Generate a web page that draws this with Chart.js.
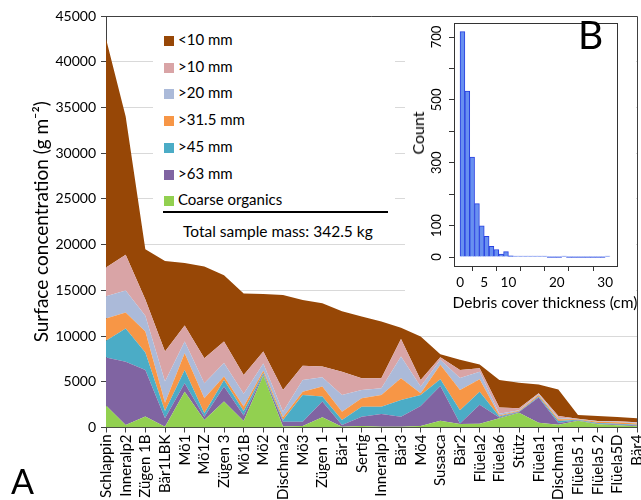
<!DOCTYPE html>
<html>
<head>
<meta charset="utf-8">
<script src="https://cdn.jsdelivr.net/npm/chart.js@4"></script>
<style>
  body { margin: 0; background: #fff; }
  #wrap { position: relative; width: 641px; height: 500px; font-family: Lato, "DejaVu Sans", sans-serif; }
  #main { position: absolute; left: 0; top: 0; }
  #legend { position: absolute; left: 153px; top: 17px; width: 242px; height: 224px; background: #fff; }
  .item { position: absolute; left: 11px; font-size: 15px; line-height: 18px; color: #000; }
  .item span { display: inline-block; width: 10px; height: 10px; margin-right: 4px; vertical-align: -1px; }
  #rule { position: absolute; left: 10px; top: 194px; width: 225px; height: 2px; background: #000; }
  #total { position: absolute; left: 30px; top: 205px; font-size: 15.5px; color: #000; white-space: nowrap; }
  #inset { position: absolute; left: 405px; top: 17px; width: 231px; height: 301px; background: #fff; }
  #lblB { position: absolute; left: 578px; top: 13px; font-size: 39px; line-height: 42px; color: #000; }
  #lblA { position: absolute; left: 11px; top: 462px; font-size: 34px; line-height: 38px; color: #000; }
  #count { position: absolute; left: 418px; top: 133px; font-size: 16px; line-height: 18px; color: #000;
           transform: translate(-50%, -50%) rotate(-90deg); white-space: nowrap; }
  #debris { position: absolute; left: 545px; top: 302px; font-size: 15.5px; line-height: 20px; color: #000;
            transform: translate(-50%, -50%); white-space: nowrap; }
</style>
</head>
<body>
<div id="wrap">
  <canvas id="main" width="641" height="500"></canvas>
  <div id="legend"></div>
  <div id="inset"><canvas id="hist" width="231" height="301"></canvas></div>
  <div id="count">Count</div>
  <div id="debris">Debris cover thickness (cm)</div>
  <div id="lblB">B</div>
  <div id="lblA">A</div>
</div>
<script>
// sites along the x axis
var categories = ['Schlappin', 'Inneralp2', 'Zügen 1B', 'Bär1LBK', 'Mö1', 'Mö1Z', 'Zügen 3', 'Mö1B', 'Mö2',
  'Dischma2', 'Mö3', 'Zügen 1', 'Bär1', 'Sertig', 'Inneralp1', 'Bär3', 'Mö4', 'Susasca', 'Bär2', 'Flüela2',
  'Flüela6', 'Stütz', 'Flüela1', 'Dischma1', 'Flüela5 1', 'Flüela5 2', 'Flüela5D', 'Bär4'];

// surface concentration per fraction (g m-2), stacked from the bottom up
var organics = [2400, 270, 1190, 90, 3920, 820, 2830, 700, 5700, 100, 160, 1110, 90, 160, 90, 90, 160, 750, 380, 400, 1000, 1620, 530, 300, 750, 350, 250, 150];
var gt63 = [5250, 6910, 5110, 910, 920, 360, 1640, 600, 100, 540, 480, 1720, 180, 1020, 1390, 1090, 2200, 3800, 70, 2100, 100, 80, 2740, 200, 50, 50, 70, 70];
var gt45 = [1830, 3650, 1900, 800, 1460, 380, 730, 500, 150, 180, 2920, 550, 550, 1100, 800, 1830, 1200, 730, 1450, 1400, 100, 60, 110, 200, 50, 80, 100, 80];
var gt31 = [2440, 1750, 2300, 900, 1830, 1640, 370, 500, 250, 290, 360, 1090, 910, 920, 1280, 2380, 190, 1570, 2200, 1380, 100, 60, 180, 200, 50, 140, 160, 150];
var gt20 = [2420, 2410, 1720, 2320, 1270, 1640, 1470, 1400, 800, 620, 1280, 1030, 1830, 910, 740, 2370, 720, 550, 1300, 830, 200, 80, 90, 150, 30, 60, 60, 70];
var gt10 = [3170, 3910, 1780, 3290, 1760, 2740, 2360, 2050, 1300, 2380, 1540, 1160, 2550, 1280, 1090, 1910, 730, 290, 900, 380, 700, 200, 100, 200, 30, 40, 50, 60];
var lt10 = [24990, 15100, 5500, 9890, 6840, 10020, 7250, 8900, 6300, 10390, 7210, 6940, 6590, 6760, 6210, 1230, 4750, 310, 1100, 410, 3000, 2800, 950, 2900, 410, 530, 460, 420];

var yTicks = [0, 5000, 10000, 15000, 20000, 25000, 30000, 35000, 40000, 45000];

// inset histogram: 1 cm bins starting at these edges
var binStart = [0, 1, 2, 3, 4, 5, 6, 7, 8, 9, 10, 11, 12, 13, 14, 15, 16, 17, 18, 19, 20, 21, 22, 23, 24, 25, 26, 27, 28, 29, 30];
var counts = [717, 528, 318, 170, 99, 66, 34, 24, 9, 17, 4, 2, 1, 2, 2, 1, 2, 1, 0, 0, 0, 1, 0, 0, 0, 0, 0, 0, 0, 0, 1];
var histXTicks = [0, 5, 10, 15, 20, 25, 30];
var histXLabels = [0, 5, 10, 20, 30];
var histYTicks = [0, 100, 200, 300, 400, 500, 600, 700];
var histYLabels = [0, 100, 300, 500, 700];

var FONT = 'Lato, "DejaVu Sans", sans-serif';

var series = [
  { label: 'Coarse organics', data: organics, color: '#92d050' },
  { label: '>63 mm', data: gt63, color: '#8064a2' },
  { label: '>45 mm', data: gt45, color: '#4bacc6' },
  { label: '>31.5 mm', data: gt31, color: '#f79646' },
  { label: '>20 mm', data: gt20, color: '#abbad9' },
  { label: '>10 mm', data: gt10, color: '#d9a4a6' },
  { label: '<10 mm', data: lt10, color: '#974706' }
];

// legend box, top entry first
var legend = document.getElementById('legend');
series.slice().reverse().forEach(function (s, i) {
  var d = document.createElement('div');
  d.className = 'item';
  d.style.top = (13 + i * 26.7) + 'px';
  d.innerHTML = '<span style="background:' + s.color + '"></span>';
  d.appendChild(document.createTextNode(s.label));
  legend.appendChild(d);
});
var rule = document.createElement('div');
rule.id = 'rule';
legend.appendChild(rule);
var total = document.createElement('div');
total.id = 'total';
total.textContent = 'Total sample mass: 342.5 kg';
legend.appendChild(total);

var frame = {
  id: 'frame',
  afterDraw: function (chart) {
    var a = chart.chartArea, c = chart.ctx;
    c.save();
    c.strokeStyle = '#404040';
    c.lineWidth = 1;
    c.beginPath();
    c.moveTo(a.left, a.top + 0.5);
    c.lineTo(a.right + 0.5, a.top + 0.5);
    c.lineTo(a.right + 0.5, a.bottom);
    c.stroke();
    c.restore();
  }
};

new Chart(document.getElementById('main'), {
  type: 'line',
  data: {
    labels: categories,
    datasets: series.map(function (s, i) {
      return {
        label: s.label,
        data: s.data,
        backgroundColor: s.color,
        borderColor: s.color,
        borderWidth: 0,
        pointRadius: 0,
        tension: 0,
        fill: i === 0 ? 'origin' : '-1'
      };
    })
  },
  options: {
    responsive: false,
    animation: false,
    layout: { padding: { top: 16, right: 4 } },
    plugins: { legend: { display: false }, tooltip: { enabled: false } },
    scales: {
      x: {
        offset: false,
        grid: { drawOnChartArea: false, tickLength: 5, color: '#404040' },
        border: { color: '#404040' },
        ticks: { autoSkip: false, minRotation: 90, maxRotation: 90, padding: 2, color: '#000', font: { family: FONT, size: 15 } },
        afterFit: function (s) { s.height = 72.5; s.paddingRight = 4; s.paddingLeft = 0; }
      },
      y: {
        stacked: true,
        min: 0,
        max: 45000,
        afterBuildTicks: function (s) { s.ticks = yTicks.map(function (v) { return { value: v }; }); },
        grid: { color: '#d9d9d9', tickColor: '#404040', tickLength: 5 },
        border: { color: '#404040' },
        ticks: { padding: 5, color: '#000', font: { family: FONT, size: 14 }, callback: function (v) { return v; } },
        title: { display: true, text: 'Surface concentration (g m⁻²)', color: '#000', font: { family: FONT, size: 19 }, padding: { top: 30, bottom: 0 } },
        afterFit: function (s) { s.width = 106; }
      }
    }
  },
  plugins: [frame]
});

var histAxes = {
  id: 'histAxes',
  afterDraw: function (chart) {
    var a = chart.chartArea, c = chart.ctx, y = chart.scales.y;
    c.save();
    c.strokeStyle = '#333';
    c.lineWidth = 1;
    c.strokeRect(a.left + 0.5, a.top + 0.5, a.right - a.left, a.bottom - a.top);
    c.fillStyle = '#000';
    c.font = '13px ' + FONT;
    c.textAlign = 'center';
    c.textBaseline = 'middle';
    histYLabels.forEach(function (v) {
      c.save();
      c.translate(32, y.getPixelForValue(v));
      c.rotate(-Math.PI / 2);
      c.fillText(String(v), 0, 0);
      c.restore();
    });
    c.restore();
  }
};

new Chart(document.getElementById('hist'), {
  type: 'bar',
  data: {
    datasets: [{
      data: binStart.map(function (b, i) { return { x: b + 0.5, y: counts[i] }; }),
      backgroundColor: '#6890f0',
      borderColor: '#2840e0',
      borderWidth: 1,
      minBarLength: 1,
      barPercentage: 1,
      categoryPercentage: 1
    }]
  },
  options: {
    responsive: false,
    animation: false,
    layout: { padding: { top: 6, right: 19 } },
    plugins: { legend: { display: false }, tooltip: { enabled: false } },
    scales: {
      x: {
        type: 'linear',
        offset: false,
        min: -1.25,
        max: 32.45,
        afterBuildTicks: function (s) { s.ticks = histXTicks.map(function (v) { return { value: v }; }); },
        grid: { drawOnChartArea: false, tickLength: 5, color: '#333' },
        border: { color: '#333' },
        ticks: {
          autoSkip: false, maxRotation: 0, padding: 4, color: '#000', font: { family: FONT, size: 13.5 },
          callback: function (v) { return histXLabels.indexOf(v) >= 0 ? v : ''; }
        },
        afterFit: function (s) { s.height = 52; s.paddingLeft = 0; s.paddingRight = 0; }
      },
      y: {
        min: -28.6,
        max: 744.6,
        afterBuildTicks: function (s) { s.ticks = histYTicks.map(function (v) { return { value: v }; }); },
        grid: { drawOnChartArea: false, tickLength: 5, color: '#333' },
        border: { color: '#333' },
        ticks: { display: false },
        afterFit: function (s) { s.width = 49; }
      }
    }
  },
  plugins: [histAxes]
});
</script>
</body>
</html>
